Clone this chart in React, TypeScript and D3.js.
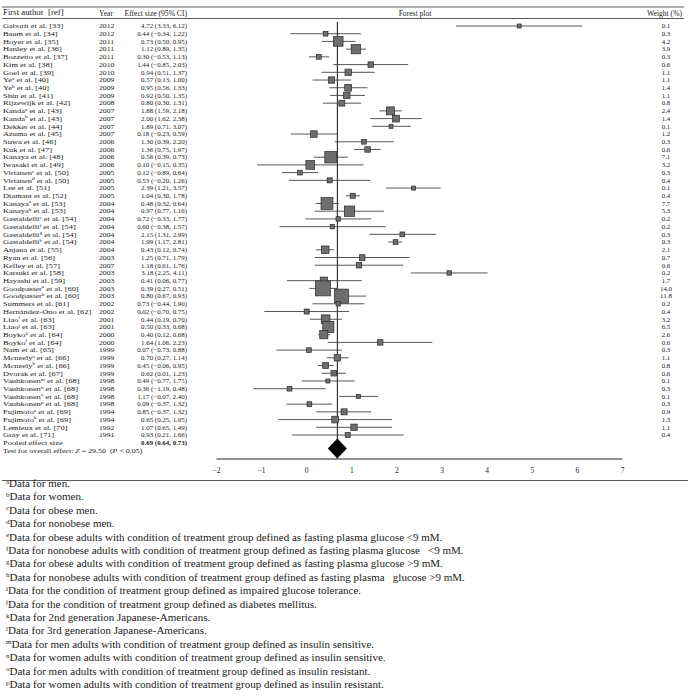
import React, { useEffect, useRef } from 'react';
import * as d3 from 'd3';

// study rows (top to bottom)
const authors = ['Gaborit', 'Baum', 'Hoyer', 'Hanley', 'Bozzetto', 'Kim', 'Goel', 'Ye', 'Ye', 'Shin', 'Rijzewijk', 'Kanda', 'Kanda', 'Dekker', 'Azuma', 'Suwa', 'Kuk', 'Kanaya', 'Iwasaki', 'Virtanen', 'Virtanen', 'Lee', 'Diamant', 'Kanaya', 'Kanaya', 'Gastaldelli', 'Gastaldelli', 'Gastaldelli', 'Gastaldelli', 'Anjana', 'Ryan', 'Kelley', 'Katsuki', 'Hayashi', 'Goodpaster', 'Goodpaster', 'Summers', 'Hernández-Ono', 'Liao', 'Liao', 'Boyko', 'Boyko', 'Nam', 'Mcneely', 'Mcneely', 'Dvorak', 'Vauhkonen', 'Vauhkonen', 'Vauhkonen', 'Vauhkonen', 'Fujimoto', 'Fujimoto', 'Lemieux', 'Gray'];
const sups = ['', '', '', '', '', '', '', 'a', 'b', '', '', 'a', 'b', '', '', '', '', '', '', 'c', 'd', '', '', 'a', 'b', 'e', 'f', 'g', 'h', '', '', '', '', '', 'a', 'b', '', '', 'i', 'j', 'k', 'l', '', 'a', 'b', '', 'm', 'n', 'o', 'p', 'a', 'b', '', ''];
const refs = [33, 34, 35, 36, 37, 38, 39, 40, 40, 41, 42, 43, 43, 44, 45, 46, 47, 48, 49, 50, 50, 51, 52, 53, 53, 54, 54, 54, 54, 55, 56, 57, 58, 59, 60, 60, 61, 62, 63, 63, 64, 64, 65, 66, 66, 67, 68, 68, 68, 68, 69, 69, 70, 71];
const years = [2012, 2012, 2011, 2011, 2011, 2010, 2010, 2009, 2009, 2009, 2008, 2007, 2007, 2007, 2007, 2006, 2006, 2006, 2006, 2005, 2005, 2005, 2005, 2004, 2004, 2004, 2004, 2004, 2004, 2004, 2003, 2007, 2003, 2003, 2003, 2003, 2002, 2002, 2001, 2001, 2000, 2000, 1999, 1999, 1999, 1999, 1998, 1998, 1998, 1998, 1994, 1994, 1992, 1991];

// effect size column as printed
const es = [4.72, 0.44, 0.73, 1.12, 0.30, 1.44, 0.94, 0.57, 0.95, 0.92, 0.80, 1.88, 2.00, 1.89, 0.18, 1.30, 1.36, 0.56, 0.10, 0.12, 0.53, 2.39, 1.04, 0.48, 0.97, 0.72, 0.60, 2.15, 1.99, 0.43, 1.25, 1.18, 3.18, 0.41, 0.39, 0.80, 0.73, 0.02, 0.44, 0.50, 0.40, 1.64, 0.07, 0.70, 0.45, 0.62, 0.49, 0.36, 1.17, 0.09, 0.85, 0.65, 1.07, 0.93];
const ciLo = [3.33, -0.34, 0.50, 0.89, -0.53, -0.85, 0.51, 0.13, 0.56, 0.50, 0.30, 1.59, 1.62, 0.71, -0.23, 0.39, 0.75, 0.39, -0.15, -0.89, -0.20, 1.21, 0.30, 0.32, 0.77, -0.33, -0.38, 1.31, 1.17, 0.12, 0.71, 0.61, 2.25, 0.06, 0.27, 0.67, -0.44, -0.70, 0.19, 0.33, 0.12, 1.06, -0.73, 0.27, -0.06, 0.01, -0.77, -1.19, -0.07, -0.37, -0.37, 0.25, 0.65, 0.21];
const ciHi = [6.12, 1.22, 0.95, 1.35, 1.13, 2.03, 1.37, 1.00, 1.33, 1.35, 1.31, 2.18, 2.38, 3.07, 0.59, 2.20, 1.97, 0.73, 0.35, 0.64, 1.26, 3.57, 1.78, 0.64, 1.16, 1.77, 1.57, 2.99, 2.81, 0.74, 1.79, 1.76, 4.11, 0.77, 0.51, 0.93, 1.90, 0.75, 0.70, 0.68, 0.68, 2.23, 0.88, 1.14, 0.95, 1.23, 1.75, 0.48, 2.40, 1.32, 1.32, 1.05, 1.49, 1.66];
const weights = [0.1, 0.3, 4.2, 3.9, 0.3, 0.6, 1.1, 1.1, 1.4, 1.1, 0.8, 2.4, 1.4, 0.1, 1.2, 0.3, 0.6, 7.1, 3.2, 0.3, 0.4, 0.1, 0.4, 7.7, 5.3, 0.2, 0.2, 0.3, 0.3, 2.1, 0.7, 0.6, 0.2, 1.7, 14.0, 11.8, 0.2, 0.4, 3.2, 6.5, 2.6, 0.6, 0.3, 1.1, 0.8, 0.6, 0.1, 0.3, 0.1, 0.3, 0.9, 1.3, 1.1, 0.4];

// what the forest plot actually draws (differs from the table in places)
const plotMid = [4.72, 0.43, 0.71, 1.10, 0.28, 1.43, 0.93, 0.56, 0.93, 0.90, 0.79, 1.87, 1.99, 1.88, 0.17, 1.28, 1.36, 0.54, 0.09, -0.14, 0.52, 2.38, 1.03, 0.46, 0.96, 0.71, 0.58, 2.13, 1.98, 0.42, 1.24, 1.17, 3.17, 0.39, 0.37, 0.78, 0.71, 0.01, 0.43, 0.49, 0.39, 1.64, 0.06, 0.69, 0.43, 0.61, 0.48, -0.37, 1.16, 0.07, 0.84, 0.64, 1.06, 0.92];
const plotLo = [3.32, -0.35, 0.34, 0.88, 0.06, 0.60, 0.34, 0.14, 0.51, 0.53, 0.37, 1.62, 1.42, 1.46, -0.34, 0.63, 1.06, 0.17, -1.09, -0.54, -0.38, 1.77, 0.88, 0.21, 0.19, -0.02, -0.59, 1.40, 1.82, 0.22, 0.19, 0.19, 2.32, -0.43, 0.07, 0.64, 0.14, -0.93, 0.08, 0.38, 0.27, 0.48, -0.66, 0.45, 0.26, 0.34, -0.10, -1.17, 0.73, -0.44, 0.22, -0.62, 0.22, -0.32];
const plotHi = [6.12, 1.21, 1.09, 1.33, 0.51, 2.26, 1.52, 0.99, 1.36, 1.30, 1.22, 2.12, 2.56, 2.32, 0.68, 1.94, 1.65, 0.92, 1.27, 0.27, 1.42, 2.98, 1.19, 0.72, 1.72, 1.44, 1.76, 2.88, 2.13, 0.62, 2.29, 2.15, 4.02, 1.23, 0.68, 1.33, 1.29, 0.95, 0.79, 0.60, 0.53, 2.80, 0.79, 0.94, 0.61, 0.88, 1.07, 0.43, 1.59, 0.58, 1.44, 1.90, 1.90, 2.16];

const pooled = [0.69, 0.64, 0.73];
const xTicks = [-2, -1, 0, 1, 2, 3, 4, 5, 6, 7];

const noteKeys = ['a', 'b', 'c', 'd', 'e', 'f', 'g', 'h', 'i', 'j', 'k', 'l', 'm', 'n', 'o', 'p'];
const notes = [
  'Data for men.',
  'Data for women.',
  'Data for obese men.',
  'Data for nonobese men.',
  'Data for obese adults with condition of treatment group defined as fasting plasma glucose <9 mM.',
  'Data for nonobese adults with condition of treatment group defined as fasting plasma glucose   <9 mM.',
  'Data for obese adults with condition of treatment group defined as fasting plasma glucose >9 mM.',
  'Data for nonobese adults with condition of treatment group defined as fasting plasma   glucose >9 mM.',
  'Data for the condition of treatment group defined as impaired glucose tolerance.',
  'Data for the condition of treatment group defined as diabetes mellitus.',
  'Data for 2nd generation Japanese-Americans.',
  'Data for 3rd generation Japanese-Americans.',
  'Data for men adults with condition of treatment group defined as insulin sensitive.',
  'Data for women adults with condition of treatment group defined as insulin sensitive.',
  'Data for men adults with condition of treatment group defined as insulin resistant.',
  'Data for women adults with condition of treatment group defined as insulin resistant.',
];

const W = 693;
const H = 699;
const FONT = '"Liberation Serif", "DejaVu Serif", serif';
const FS = 6.9; // table text, kept under the row pitch
const WIDE = 'scale(1.22,1)'; // author column is set wider in the original

export default function App() {
  const axisRef = useRef<SVGGElement>(null);

  const x = d3.scaleLinear().domain([-2, 7]).range([216, 622]);
  const y = d3.scaleLinear().domain([0, authors.length - 1]).range([26, 435]);
  const size = d3.scaleSqrt().domain([0, 14]).range([3, 15]);
  const f2 = d3.format('.2f');
  const ciLabel = (i: number) => `${f2(es[i])} (${f2(ciLo[i])}, ${f2(ciHi[i])})`;

  const pooledY = 443;
  const testY = 451.2;
  const axisY = 458.5;
  const diamondY = 448.5;
  const noteY = d3.scaleLinear().domain([0, notes.length - 1]).range([487, 688]);

  useEffect(() => {
    const g = d3.select(axisRef.current);
    g.call(d3.axisBottom(x).tickValues(xTicks).tickSize(0).tickSizeOuter(0).tickPadding(9.5) as any);
    g.select('.domain').attr('stroke', '#222').attr('stroke-width', 1);
    g.selectAll('text').attr('font-family', FONT).attr('font-size', 7.5).attr('fill', '#222');
  }, []);

  const px = x(pooled[0]);

  return (
    <svg width={W} height={H} style={{ position: 'absolute', left: 0, top: 0, background: '#fff' }} fontFamily={FONT}>
      {/* header rules */}
      <line x1={2} x2={684} y1={7} y2={7} stroke="#333" strokeWidth={0.8} />
      <line x1={2} x2={684} y1={18.5} y2={18.5} stroke="#333" strokeWidth={0.8} />
      <g fontSize={7.6} fill="#222">
        <g transform={`translate(3,13) ${WIDE}`}>
          <text dy="0.33em" fontSize={7.2} style={{ whiteSpace: 'pre' }}>First author  [ref]</text>
        </g>
        <text x={99} y={13} dy="0.33em">Year</text>
        <text x={187} y={13} dy="0.33em" textAnchor="end">Effect size (95% CI)</text>
        <text x={415} y={13} dy="0.33em" textAnchor="middle">Forest plot</text>
        <text x={682} y={13} dy="0.33em" textAnchor="end">Weight (%)</text>
      </g>

      {/* table rows */}
      <g fontSize={FS} fill="#222">
        {authors.map((a, i) => (
          <g key={i} transform={`translate(0,${y(i)})`}>
            <g transform={`translate(3,0) ${WIDE}`}>
              <text dy="0.33em">
                {a}
                {sups[i] ? <tspan fontSize={4.3} dy={-2.4}>{sups[i]}</tspan> : null}
                {sups[i] ? <tspan dy={2.4}> et al. [{refs[i]}]</tspan> : <tspan> et al. [{refs[i]}]</tspan>}
              </text>
            </g>
            <g transform={`translate(99,0) scale(1.12,1)`}>
              <text dy="0.33em">{years[i]}</text>
            </g>
            <text x={187} dy="0.33em" textAnchor="end">{ciLabel(i)}</text>
            <text x={666} dy="0.33em" textAnchor="middle">{weights[i].toFixed(1)}</text>
          </g>
        ))}
        <g transform={`translate(3,${pooledY}) ${WIDE}`}>
          <text dy="0.33em">Pooled effect size</text>
        </g>
        <text x={187} y={pooledY} dy="0.33em" textAnchor="end" fontWeight="bold">
          {`${f2(pooled[0])} (${f2(pooled[1])}, ${f2(pooled[2])})`}
        </text>
        <g transform={`translate(3,${testY}) scale(1.15,1)`}>
          <text dy="0.33em" style={{ whiteSpace: 'pre' }}>
            Test for overall effect: <tspan fontStyle="italic">Z</tspan>{' = 29.50  ('}
            <tspan fontStyle="italic">P</tspan>{' < 0.05)'}
          </text>
        </g>
      </g>

      {/* reference line at pooled estimate */}
      <line x1={px} x2={px} y1={22} y2={axisY} stroke="#111" strokeWidth={1} />

      {/* confidence intervals and weight squares */}
      <g>
        {plotMid.map((m, i) => {
          const s = size(weights[i]);
          return (
            <g key={i}>
              <line x1={x(plotLo[i])} x2={x(plotHi[i])} y1={y(i)} y2={y(i)} stroke="#444" strokeWidth={0.9} />
              <rect x={x(m) - s / 2} y={y(i) - s / 2} width={s} height={s} fill="#6e6e6e" stroke="#2a2a2a" strokeWidth={0.7} />
            </g>
          );
        })}
      </g>

      {/* pooled diamond */}
      <path
        d={`M${px - 9.5},${diamondY} L${px},${diamondY - 10} L${px + 9.5},${diamondY} L${px},${diamondY + 10} Z`}
        fill="#000"
      />

      <g ref={axisRef} transform={`translate(0,${axisY})`} />

      <line x1={2} x2={688} y1={480.5} y2={480.5} stroke="#333" strokeWidth={0.8} />

      {/* footnotes */}
      <g fontSize={11} fill="#222">
        {notes.map((n, i) => (
          <text key={i} x={6} y={noteY(i)} dy="0.33em" style={{ whiteSpace: 'pre' }}>
            <tspan fontSize={7} dy={-3.5}>{noteKeys[i]}</tspan>
            <tspan dy={3.5}>{n}</tspan>
          </text>
        ))}
      </g>
    </svg>
  );
}
